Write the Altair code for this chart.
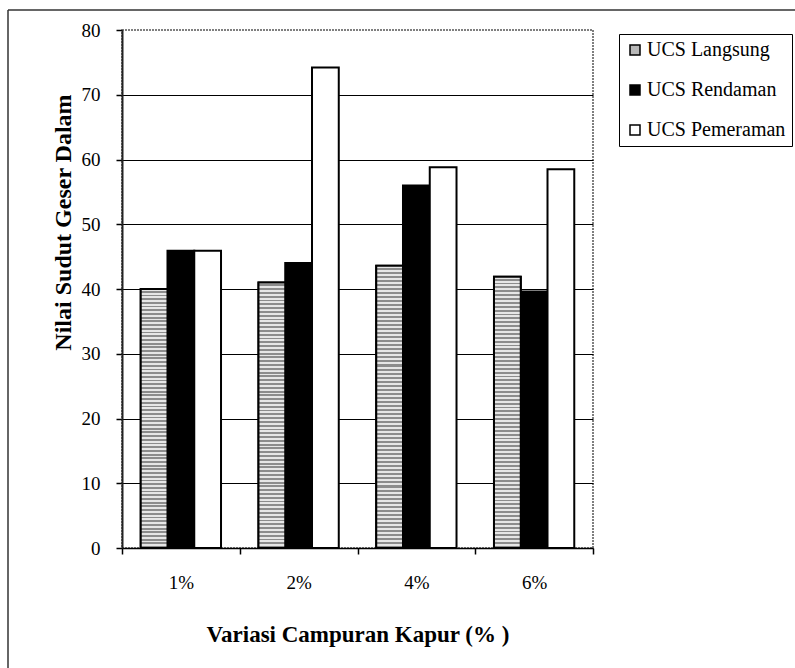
import altair as alt
import pandas as pd

# Lime content variations and the three UCS treatments
categories = ["1%", "2%", "4%", "6%"]
series_names = ["UCS Langsung", "UCS Rendaman", "UCS Pemeraman"]
langsung = [40.0, 41.0, 43.6, 41.9]
rendaman = [45.9, 44.0, 56.0, 39.6]
pemeraman = [45.9, 74.2, 58.8, 58.5]

rows = []
for name, vals in zip(series_names, [langsung, rendaman, pemeraman]):
    for cat, v in zip(categories, vals):
        rows.append({"kapur": cat, "seri": name, "nilai": v})
df = pd.DataFrame(rows)

FONT = "Liberation Serif"
W, H = 471, 518

x_enc = alt.X(
    "kapur:N",
    sort=categories,
    scale=alt.Scale(paddingInner=0, paddingOuter=0),
    axis=alt.Axis(
        title="Variasi Campuran Kapur (% )",
        labelAngle=0,
        tickBand="extent",
        tickSize=6,
        tickColor="black",
        tickWidth=1.5,
        domainColor="black",
        domainWidth=1.5,
        labelFont=FONT,
        labelFontSize=19,
        labelColor="black",
        labelPadding=19,
        titleFont=FONT,
        titleFontSize=23,
        titleFontWeight="bold",
        titleColor="black",
        titleY=86,
        titleBaseline="middle",
        grid=False,
    ),
)
xoff_enc = alt.XOffset(
    "seri:N",
    sort=series_names,
    scale=alt.Scale(domain=series_names, paddingInner=0, paddingOuter=0.7),
)
y_enc = alt.Y(
    "nilai:Q",
    scale=alt.Scale(domain=[0, 80]),
    axis=alt.Axis(
        title="Nilai Sudut Geser Dalam",
        values=list(range(0, 81, 10)),
        tickSize=6,
        tickColor="black",
        tickWidth=1.5,
        domainColor="#222",
        domainWidth=2,
        labelFont=FONT,
        labelFontSize=19,
        labelColor="black",
        labelPadding=16,
        titleFont=FONT,
        titleFontSize=24,
        titleFontWeight="bold",
        titleColor="black",
        titleX=-59,
        titleY=192,
        titleAngle=270,
        titleAlign="center",
        titleBaseline="middle",
        grid=True,
        gridColor="black",
        gridWidth=1.2,
        gridOpacity={"condition": {"test": "datum.value === 80", "value": 0}, "value": 1},
    ),
)

bars = alt.Chart(df).mark_bar(stroke="black", strokeWidth=2).encode(
    x=x_enc,
    xOffset=xoff_enc,
    y=y_enc,
    color=alt.Color(
        "seri:N",
        sort=series_names,
        scale=alt.Scale(domain=series_names, range=["#b8b8b8", "#000000", "#ffffff"]),
        legend=alt.Legend(
            title=None,
            orient="none",
            legendX=497,
            legendY=4,
            direction="vertical",
            strokeColor="black",
            fillColor="white",
            padding=6,
            labelFont=FONT,
            labelFontSize=20,
            labelColor="black",
            labelLimit=300,
            labelOffset=2,
            rowPadding=20,
            symbolType="square",
            symbolSize=100,
            symbolStrokeColor="black",
            symbolStrokeWidth=1.5,
            symbolOpacity=1,
        ),
    ),
)

# stippled texture for the "UCS Langsung" bars
stops = []
n_rows = 70
for i in range(n_rows):
    a, m, b = i / n_rows, (i + 0.5) / n_rows, (i + 1) / n_rows
    stops += [
        {"offset": a, "color": "#e6e6e6"},
        {"offset": m, "color": "#e6e6e6"},
        {"offset": m, "color": "#8c8c8c"},
        {"offset": b, "color": "#8c8c8c"},
    ]
texture = {"gradient": "linear", "x1": 0, "y1": 0, "x2": 0, "y2": 1, "stops": stops}

langsung_bars = (
    alt.Chart(df)
    .transform_filter(alt.datum.seri == "UCS Langsung")
    .mark_bar(fill=texture, stroke="black", strokeWidth=2)
    .encode(x=x_enc, xOffset=xoff_enc, y=y_enc)
)

# outer frame lines (top and left edge of the figure)
one = alt.Data(values=[{}])
frame_top = alt.Chart(one).mark_rule(color="#333", strokeWidth=1.5).encode(
    x=alt.value(-114), x2=alt.value(673), y=alt.value(-20)
)
frame_left = alt.Chart(one).mark_rule(color="#333", strokeWidth=1.5).encode(
    x=alt.value(-114), y=alt.value(-20), y2=alt.value(638)
)

chart = (
    alt.layer(bars, langsung_bars, frame_top, frame_left)
    .properties(
        width=W,
        height=H,
        autosize=alt.AutoSizeParams(type="none"),
        padding={"left": 122, "top": 30, "right": 202, "bottom": 120},
        background="white",
    )
    .configure_view(stroke="#555", strokeWidth=1.5, strokeDash=[2, 1])
)

chart.save("out.html", embed_options={"renderer": "svg", "actions": False})
